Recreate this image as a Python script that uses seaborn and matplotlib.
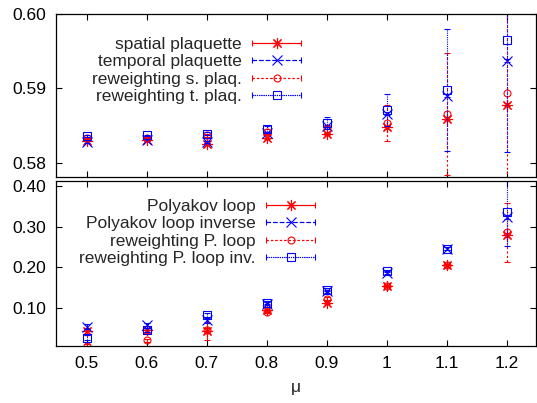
import matplotlib
matplotlib.use("Agg")
import matplotlib.pyplot as plt
import numpy as np
import seaborn as sns
from matplotlib.container import ErrorbarContainer
from matplotlib.legend_handler import HandlerErrorbar

# data
mu = [0.5, 0.6, 0.7, 0.8, 0.9, 1.0, 1.1, 1.2]

spatial = [0.5830, 0.5831, 0.5826, 0.5833, 0.5839, 0.5848, 0.5859, 0.5878]
spatial_err = [0.0001, 0.0001, 0.0001, 0.0001, 0.0001, 0.0002, 0.0002, 0.0002]
temporal = [0.5828, 0.5831, 0.5828, 0.5840, 0.5850, 0.5866, 0.5890, 0.5937]
temporal_err = [0.0001, 0.0001, 0.0001, 0.0001, 0.0001, 0.0002, 0.0002, 0.0002]
rew_s = [0.5833, 0.5834, 0.5837, 0.5842, 0.5845, 0.5854, 0.5866, 0.5894]
rew_s_err = [0.0001, 0.0001, 0.0002, 0.0003, 0.0005, 0.0024, 0.0082, 0.0150]
rew_t = [0.5836, 0.5837, 0.5839, 0.5845, 0.5854, 0.5871, 0.5898, 0.5965]
rew_t_err = [0.0001, 0.0001, 0.0002, 0.0004, 0.0008, 0.0021, 0.0082, 0.0150]

poly = [0.043, 0.046, 0.043, 0.095, 0.113, 0.154, 0.205, 0.280]
poly_err = [0.008, 0.006, 0.022, 0.004, 0.004, 0.003, 0.003, 0.005]
poly_inv = [0.054, 0.058, 0.070, 0.111, 0.141, 0.187, 0.246, 0.323]
poly_inv_err = [0.006, 0.006, 0.006, 0.004, 0.004, 0.003, 0.003, 0.005]
rew_p = [0.008, 0.021, 0.046, 0.091, 0.123, 0.154, 0.205, 0.286]
rew_p_err = [0.003, 0.004, 0.006, 0.003, 0.004, 0.003, 0.003, 0.073]
rew_pi = [0.027, 0.046, 0.082, 0.113, 0.145, 0.191, 0.246, 0.337]
rew_pi_err = [0.006, 0.005, 0.005, 0.004, 0.004, 0.003, 0.003, 0.085]

top_labels = ["spatial plaquette", "temporal plaquette",
              "reweighting s. plaq.", "reweighting t. plaq."]
bottom_labels = ["Polyakov loop", "Polyakov loop inverse",
                 "reweighting P. loop", "reweighting P. loop inv."]

RED = "#ff0000"
BLUE = "#0000ff"
FONT_SIZE = 12.5
STAR = (8, 2, 0)
# marker, line style, color, marker size, filled
STYLES = [
    (STAR, "-", RED, 8, True),
    ("x", (0, (4, 2)), BLUE, 7.5, True),
    ("o", (0, (2, 2)), RED, 5, False),
    ("s", (0, (1, 1)), BLUE, 5.5, False),
]

sns.set_theme(style="white")
plt.rcParams["font.family"] = ["Liberation Sans", "DejaVu Sans"]

W, H = 537, 403
fig = plt.figure(figsize=(W / 100, H / 100), dpi=100)
ax_top = fig.add_axes([56 / W, 1 - 177 / H, 480 / W, 163 / H])
ax_bot = fig.add_axes([56 / W, 1 - 346 / H, 480 / W, 165 / H])


def draw_panel(ax, series, labels):
    handles = []
    for (y, err), lab, (mk, ls, col, ms, filled) in zip(series, labels, STYLES):
        eb = ax.errorbar(mu, y, yerr=err, fmt="none", ecolor=col,
                         elinewidth=0.8, capsize=2, capthick=0.8)
        eb[2][0].set_linestyle(ls)
        ax.plot(mu, y, ls="none", marker=mk, ms=ms, color=col,
                mfc=col if filled else "none", mew=0.8)
        # proxy for the gnuplot-style key entry
        h = ax.errorbar([np.nan], [np.nan], xerr=[1], marker=mk, ms=ms,
                        color=col, ls=ls, lw=0.8, mfc=col if filled else "none",
                        mec=col, mew=0.8, capsize=2.5, elinewidth=0.8,
                        ecolor=col, label=lab)
        h[2][0].set_linestyle(ls)
        handles.append(h)
    return handles


h_top = draw_panel(ax_top, [(spatial, spatial_err), (temporal, temporal_err),
                            (rew_s, rew_s_err), (rew_t, rew_t_err)], top_labels)
h_bot = draw_panel(ax_bot, [(poly, poly_err), (poly_inv, poly_inv_err),
                            (rew_p, rew_p_err), (rew_pi, rew_pi_err)], bottom_labels)

ax_top.set_ylim(0.5781, 0.600)
ax_top.set_yticks([0.58, 0.59, 0.60])
ax_top.set_yticklabels(["0.58", "0.59", "0.60"])
ax_bot.set_ylim(0.007, 0.412)
ax_bot.set_yticks([0.10, 0.20, 0.30, 0.40])
ax_bot.set_yticklabels(["0.10", "0.20", "0.30", "0.40"])

for ax in (ax_top, ax_bot):
    ax.set_xlim(0.449, 1.249)
    ax.set_xticks(mu)
    ax.tick_params(direction="in", length=4, width=0.8, top=True, right=True,
                   bottom=True, left=True, labelsize=FONT_SIZE, pad=7,
                   colors="black")
    for sp in ax.spines.values():
        sp.set_color("black")
        sp.set_linewidth(0.9)

ax_top.tick_params(labelbottom=False)
ax_bot.set_xticklabels(["0.5", "0.6", "0.7", "0.8", "0.9", "1", "1.1", "1.2"])
ax_bot.set_xlabel("μ", fontsize=FONT_SIZE, labelpad=7)

hmap = {ErrorbarContainer: HandlerErrorbar(xerr_size=1.4)}
leg_kw = dict(frameon=False, markerfirst=False, numpoints=1, fontsize=FONT_SIZE,
              handlelength=2.8, handletextpad=0.6, labelspacing=0.12,
              borderpad=0, borderaxespad=0, loc="upper right", handler_map=hmap)
ax_top.legend(handles=h_top, bbox_to_anchor=(301 / W, 1 - 37 / H),
              bbox_transform=fig.transFigure, **leg_kw)
ax_bot.legend(handles=h_bot, bbox_to_anchor=(315 / W, 1 - 199 / H),
              bbox_transform=fig.transFigure, **leg_kw)

fig.savefig("out.png", dpi=100)
